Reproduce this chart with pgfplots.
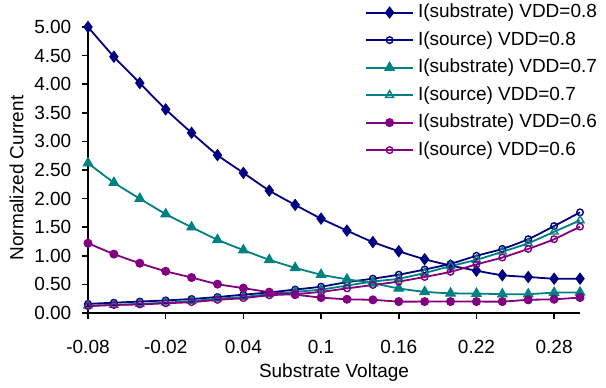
\documentclass[border=0pt]{standalone}
\usepackage{fontspec}
\setmainfont{Liberation Sans}
\usepackage{pgfplots}
\usepackage{pgfplotstable}
\pgfplotsset{compat=1.18}
\definecolor{cnavy}{RGB}{0,0,128}
\definecolor{cteal}{RGB}{0,128,128}
\definecolor{cpurple}{RGB}{128,0,128}

\pgfplotstableread{
x     s08   src08  s07   src07  s06   src06
-0.08 5.00  0.16   2.62  0.13   1.22  0.12
-0.06 4.48  0.18   2.28  0.14   1.03  0.14
-0.04 4.02  0.20   2.00  0.16   0.87  0.15
-0.02 3.56  0.22   1.73  0.18   0.73  0.17
0.00  3.15  0.245  1.50  0.21   0.62  0.19
0.02  2.76  0.28   1.28  0.25   0.505 0.23
0.04  2.45  0.32   1.10  0.28   0.435 0.26
0.06  2.14  0.36   0.93  0.33   0.365 0.31
0.08  1.89  0.41   0.79  0.37   0.32  0.33
0.10  1.65  0.46   0.67  0.41   0.27  0.37
0.12  1.44  0.54   0.59  0.48   0.24  0.43
0.14  1.24  0.60   0.52  0.55   0.23  0.49
0.16  1.08  0.67   0.43  0.60   0.20  0.55
0.18  0.94  0.76   0.37  0.70   0.20  0.63
0.20  0.83  0.86   0.345 0.82   0.20  0.72
0.22  0.74  1.00   0.34  0.93   0.20  0.85
0.24  0.66  1.12   0.33  1.07   0.20  0.97
0.26  0.63  1.29   0.33  1.22   0.23  1.12
0.28  0.60  1.52   0.355 1.42   0.24  1.29
0.30  0.60  1.76   0.36  1.62   0.27  1.51
}\datatable

\begin{document}
\fontsize{19bp}{23bp}\selectfont
\begin{tikzpicture}[x=1bp,y=1bp]
\useasboundingbox (0,0) rectangle (606,387);
\begin{axis}[
  at={(88bp,74bp)}, anchor=south west,
  scale only axis, width=492bp, height=286bp,
  xmin=-0.08, xmax=0.30, ymin=0, ymax=5,
  clip=false,
  axis x line*=bottom, axis y line*=left,
  axis line style={line width=2bp, black, -},
  tick style={line width=1.6bp, black},
  tick align=outside, major tick length=6bp,
  xtick={-0.08,-0.02,0.04,0.1,0.16,0.22,0.28},
  xticklabels={-0.08,-0.02,0.04,0.1,0.16,0.22,0.28},
  ytick={0,0.5,1,1.5,2,2.5,3,3.5,4,4.5,5},
  yticklabels={0.00,0.50,1.00,1.50,2.00,2.50,3.00,3.50,4.00,4.50,5.00},
  xticklabel style={anchor=base, yshift=-34bp, inner sep=0pt},
  yticklabel style={anchor=east, inner sep=0pt, xshift=-10.5bp},
  ticklabel style={font=\fontsize{19bp}{23bp}\selectfont},
  xlabel={Substrate Voltage},
  ylabel={Normalized Current},
  xlabel style={at={(axis description cs:0.5,-0.207)}, anchor=center, font=\fontsize{19bp}{23bp}\selectfont},
  ylabel style={at={(axis description cs:-0.145,0.472)}, anchor=center, rotate=0, font=\fontsize{19bp}{23bp}\selectfont},
  legend style={at={(axis description cs:0.563,1.086)}, anchor=north west,
    draw=none, fill=none, inner sep=0pt, row sep=7.5bp, column sep=3bp,
    font=\fontsize{19bp}{23bp}\selectfont,
    nodes={inner sep=1bp, text height=14bp, text depth=4bp},
    cells={anchor=west}},
  legend image code/.code={\draw[mark repeat=2,mark phase=2,#1] plot coordinates {(0bp,0bp) (23.5bp,0bp) (47bp,0bp)};},
  every axis plot/.append style={line width=1.8bp, smooth, tension=0.4},
]
\addplot[cnavy, mark=diamond*, mark size=5.5bp, mark options={solid, fill=cnavy, line width=1bp}] table[x=x,y=s08] {\datatable};
\addlegendentry{I(substrate) VDD=0.8}
\addplot[cnavy, mark=o, mark size=3.3bp, mark options={solid, fill=white, line width=1.4bp}] table[x=x,y=src08] {\datatable};
\addlegendentry{I(source) VDD=0.8}
\addplot[cteal, mark=triangle*, mark size=5.5bp, mark options={solid, fill=cteal, line width=1bp}] table[x=x,y=s07] {\datatable};
\addlegendentry{I(substrate) VDD=0.7}
\addplot[cteal, mark=triangle, mark size=4.5bp, mark options={solid, fill=white, line width=1.4bp}] table[x=x,y=src07] {\datatable};
\addlegendentry{I(source) VDD=0.7}
\addplot[cpurple, mark=*, mark size=4bp, mark options={solid, fill=cpurple, line width=1bp}] table[x=x,y=s06] {\datatable};
\addlegendentry{I(substrate) VDD=0.6}
\addplot[cpurple, mark=o, mark size=3.3bp, mark options={solid, fill=white, line width=1.4bp}] table[x=x,y=src06] {\datatable};
\addlegendentry{I(source) VDD=0.6}
\end{axis}
\end{tikzpicture}
\end{document}
